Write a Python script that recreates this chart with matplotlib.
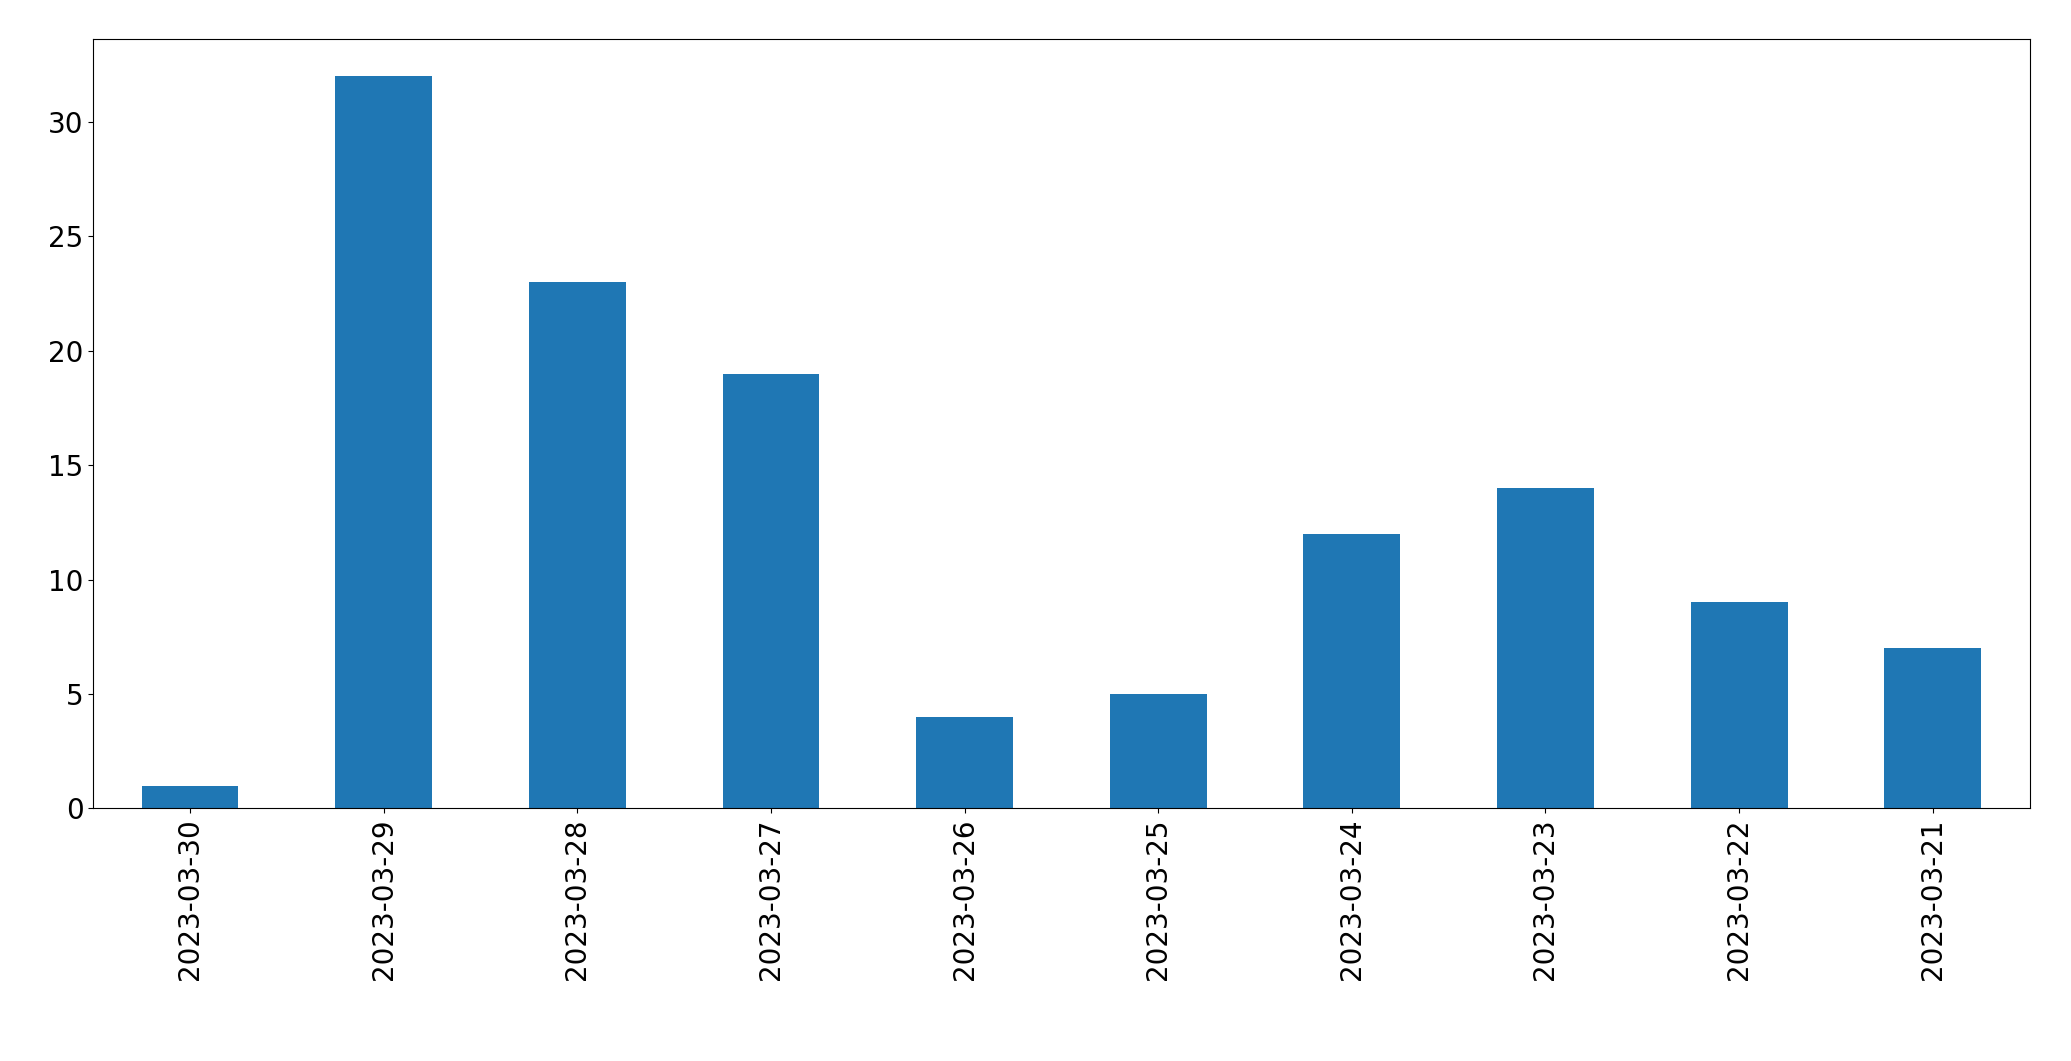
import matplotlib
matplotlib.use("Agg")
import matplotlib.pyplot as plt

dates = ["2023-03-30","2023-03-29","2023-03-28","2023-03-27","2023-03-26",
         "2023-03-25","2023-03-24","2023-03-23","2023-03-22","2023-03-21"]
counts = [1, 32, 23, 19, 4, 5, 12, 14, 9, 7]

fig = plt.figure(figsize=(20.71, 10.61), dpi=100)
ax = fig.add_axes([0.045, 0.238, 0.935, 0.725])
x = range(len(dates))
ax.bar(x, counts, width=0.5, color="#1f77b4")
ax.set_xlim(-0.5, len(dates) - 0.5)
ax.set_ylim(0, 33.6)
ax.set_xticks(list(x))
ax.set_xticklabels(dates, rotation=90)
ax.tick_params(labelsize=20)
fig.savefig("out.png", dpi=100)
